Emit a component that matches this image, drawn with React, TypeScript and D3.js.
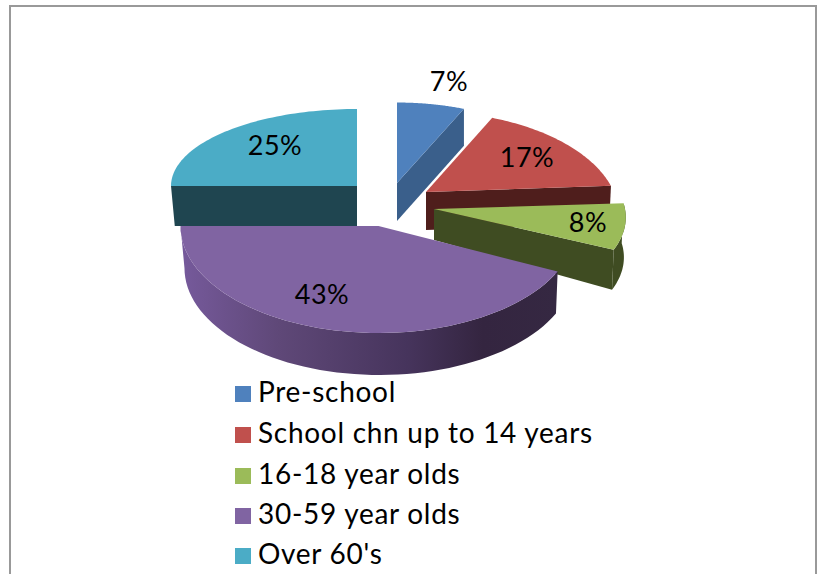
import React from "react";
import * as d3 from "d3";

const categories = ["Pre-school", "School chn up to 14 years", "16-18 year olds", "30-59 year olds", "Over 60's"];
const shares = [7, 17, 8, 43, 25];
const topColors = ["#4f81bd", "#c0504d", "#9bbb59", "#8064a2", "#4bacc6"];
const wallColors = ["#3a5f8b", "#4f1e1c", "#3f4c22", "url(#purpleWall)", "#1f4550"];

// 3D projection parameters of each exploded slice
const apexX = [397, 426, 434, 378.5, 357];
const apexY = [183, 192, 209, 226, 186];
const radiusX = [190, 188, 191, 198, 186];
const radiusY = [99, 99, 92, 107, 77];
const perspective = [0.23, 0.23, 0.09, 0, 0];
const wallOuter = [37, 38, 40, 42, 40];
const wallApex = [38, 38, 31, 42, 40];
const showOuter = [false, false, true, true, false];
const showStart = [false, false, false, false, true];
const showEnd = [true, true, true, false, false];
const drawOrder = [0, 1, 2, 4, 3];

const labelX = [449, 527, 588, 322, 275];
const labelY = [91, 167, 232, 304, 155];

const legendX = 235;
const legendTextX = 258;
const legendBaseline = [402, 443, 484, 524, 564];

const FONT = "Lato, 'Noto Sans', sans-serif";

type P = [number, number];

export default function App() {
  const arcs = d3.pie<number>().sort(null)(shares);
  const line = d3.line<P>();

  const project = (i: number, theta: number, bottom: boolean): P => {
    const s = 1 + perspective[i] * Math.cos(theta);
    const r = radiusX[i] * (bottom ? 0.985 : 1);
    return [
      apexX[i] + (bottom ? 1 : 0) + (r * Math.sin(theta)) / s,
      apexY[i] + (bottom ? wallOuter[i] : 0) - (radiusY[i] * Math.cos(theta)) / s,
    ];
  };
  const arcPts = (i: number, a: number, b: number, bottom: boolean): P[] =>
    d3.range(0, 61).map((k) => project(i, a + ((b - a) * k) / 60, bottom));
  const apex = (i: number, bottom: boolean): P => [apexX[i], apexY[i] + (bottom ? wallApex[i] : 0)];

  return (
    <svg
      width={817}
      height={574}
      style={{ position: "fixed", left: 0, top: 0, display: "block", background: "#fff" }}
    >
      <defs>
        <linearGradient id="purpleWall" gradientUnits="userSpaceOnUse" x1={185} x2={557} y1={0} y2={0}>
          <stop offset="0" stopColor="#75599a" />
          <stop offset="0.25" stopColor="#5f4878" />
          <stop offset="0.6" stopColor="#46345c" />
          <stop offset="0.8" stopColor="#342540" />
          <stop offset="1" stopColor="#352842" />
        </linearGradient>
      </defs>
      <path d="M10,574V6H816V574" fill="none" stroke="#999" strokeWidth={2} />

      {drawOrder.map((i) => {
        const { startAngle: a, endAngle: b } = arcs[i];
        const faces: string[] = [];
        if (showStart[i]) faces.push(line([apex(i, false), project(i, a, false), project(i, a, true), apex(i, true)])! + "Z");
        if (showEnd[i]) faces.push(line([apex(i, false), project(i, b, false), project(i, b, true), apex(i, true)])! + "Z");
        if (showOuter[i]) faces.push(line([...arcPts(i, a, b, false), ...arcPts(i, a, b, true).reverse()])! + "Z");
        return (
          <g key={categories[i]}>
            {faces.map((d, k) => (
              <path key={k} d={d} fill={wallColors[i]} />
            ))}
            <path d={line([apex(i, false), ...arcPts(i, a, b, false)])! + "Z"} fill={topColors[i]} />
          </g>
        );
      })}

      {shares.map((v, i) => (
        <text key={i} x={labelX[i]} y={labelY[i]} textAnchor="middle" fontFamily={FONT} fontSize={27} letterSpacing={0.5} fill="#000">
          {v}%
        </text>
      ))}

      {categories.map((c, i) => (
        <g key={c}>
          <rect x={legendX} y={legendBaseline[i] - 16} width={16} height={16} fill={topColors[i]} />
          <text x={legendTextX} y={legendBaseline[i]} fontFamily={FONT} fontSize={28} letterSpacing={0.72} fill="#000">
            {c}
          </text>
        </g>
      ))}
    </svg>
  );
}
